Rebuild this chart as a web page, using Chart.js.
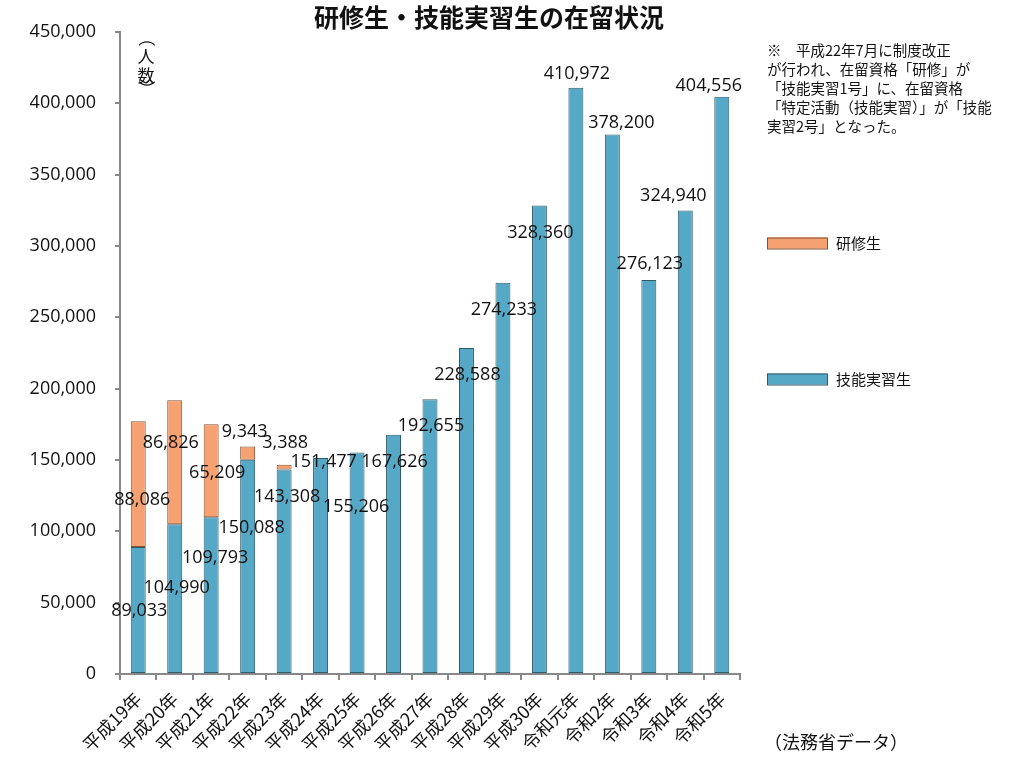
<!DOCTYPE html>
<html lang="ja">
<head>
    <meta charset="UTF-8">
    <title>研修生・技能実習生の在留状況</title>
    <script src="https://cdn.jsdelivr.net/npm/chart.js"></script>
    <style>
        body { margin: 0; background: #fff; }
    </style>
</head>
<body>
    <canvas id="chart" width="1024" height="773"></canvas>

    <script>
        // data
        const years = ['平成19年', '平成20年', '平成21年', '平成22年', '平成23年', '平成24年', '平成25年', '平成26年',
            '平成27年', '平成28年', '平成29年', '平成30年', '令和元年', '令和2年', '令和3年', '令和4年', '令和5年'];
        const interns = [89033, 104990, 109793, 150088, 143308, 151477, 155206, 167626,
            192655, 228588, 274233, 328360, 410972, 378200, 276123, 324940, 404556];
        const trainees = [88086, 86826, 65209, 9343, 3388, null, null, null,
            null, null, null, null, null, null, null, null, null];
        const seriesNames = ['技能実習生', '研修生'];

        const noteLines = [
            '※　平成22年7月に制度改正',
            'が行われ、在留資格「研修」が',
            '「技能実習1号」に、在留資格',
            '「特定活動（技能実習）」が「技能',
            '実習2号」となった。'
        ];

        // where Excel had the data labels, relative to the top of each segment [dx, dy]
        const internLabelShift = [[1, 64], [2, 64], [4, 41], [4, 68], [3, 27], [3, 4], [-1, 54], [1, 27], [1, 27],
            [1, 27], [1, 27], [1, 27], [1, -14], [9, -12], [1, -16], [-12, -15], [-13, -11]];
        const traineeLabelShift = [[4, 79], [-4, 43], [6, 49], [-3, -15], [1, -22]];

        const jp = '"Noto Sans CJK JP", "Noto Sans", sans-serif';
        const num = '"Open Sans", "DejaVu Sans", sans-serif';

        // labels, title, notes, legend
        const extras = {
            id: 'extras',
            afterDatasetsDraw(chart) {
                const ctx = chart.ctx;
                ctx.save();
                ctx.font = '18px ' + num;
                ctx.fillStyle = '#111';
                ctx.textAlign = 'center';
                ctx.textBaseline = 'middle';
                const shifts = [internLabelShift, traineeLabelShift];
                chart.data.datasets.forEach((ds, di) => {
                    chart.getDatasetMeta(di).data.forEach((bar, i) => {
                        const v = ds.data[i];
                        if (v == null) return;
                        const s = shifts[di][i] || [0, 0];
                        ctx.fillText(v.toLocaleString('en-US'), bar.x + s[0], bar.y + s[1]);
                    });
                });
                ctx.restore();
            },
            afterDraw(chart) {
                const ctx = chart.ctx;
                ctx.save();
                ctx.fillStyle = '#111';
                ctx.textBaseline = 'middle';

                // title
                ctx.textAlign = 'center';
                ctx.font = 'bold 25px ' + jp;
                ctx.fillText('研修生・技能実習生の在留状況', 489, 17);

                // y axis title, written vertically
                ctx.font = '17px ' + jp;
                ctx.fillText('人', 146, 57);
                ctx.fillText('数', 146, 76);
                [['（', 38], ['）', 89]].forEach(([c, y]) => {
                    ctx.save();
                    ctx.translate(146, y);
                    ctx.rotate(Math.PI / 2);
                    ctx.fillText(c, 0, 0);
                    ctx.restore();
                });

                // note
                ctx.textAlign = 'left';
                ctx.font = '14.5px ' + jp;
                noteLines.forEach((line, i) => ctx.fillText(line, 767, 50 + i * 19.2));

                // source
                ctx.font = '18px ' + jp;
                ctx.fillText('（法務省データ）', 764, 742);

                // legend (stack order, top first)
                ctx.font = '15px ' + jp;
                const order = [1, 0];
                const ys = [243, 379];
                order.forEach((di, k) => {
                    const ds = chart.data.datasets[di];
                    ctx.fillStyle = ds.backgroundColor;
                    ctx.fillRect(767, ys[k] - 5.5, 60, 11);
                    ctx.strokeStyle = ds.borderColor;
                    ctx.lineWidth = 1;
                    ctx.strokeRect(767.5, ys[k] - 5, 60, 11);
                    ctx.fillStyle = '#111';
                    ctx.fillText(ds.label, 836, ys[k]);
                });
                ctx.restore();
            }
        };

        new Chart(document.getElementById('chart'), {
            type: 'bar',
            data: {
                labels: years,
                datasets: [
                    {
                        label: seriesNames[0],
                        data: interns,
                        backgroundColor: '#56a9c6',
                        borderColor: '#2f5c6b',
                        borderWidth: 1
                    },
                    {
                        label: seriesNames[1],
                        data: trainees,
                        backgroundColor: '#f5a172',
                        borderColor: '#8a4f2e',
                        borderWidth: 1
                    }
                ]
            },
            options: {
                responsive: false,
                animation: false,
                devicePixelRatio: 1,
                layout: { padding: { top: 32, right: 284, left: 0, bottom: 0 } },
                datasets: { bar: { categoryPercentage: 1, barPercentage: 0.41, borderSkipped: false } },
                plugins: {
                    legend: { display: false },
                    title: { display: false },
                    tooltip: { enabled: false }
                },
                scales: {
                    x: {
                        stacked: true,
                        afterFit: (s) => { s.height = 99; },
                        grid: { offset: true, drawOnChartArea: false, tickLength: 6, color: '#888', lineWidth: 2 },
                        border: { color: '#888', width: 2 },
                        ticks: {
                            minRotation: 45,
                            maxRotation: 45,
                            padding: 8,
                            color: '#111',
                            font: { family: jp, size: 18 }
                        }
                    },
                    y: {
                        stacked: true,
                        min: 0,
                        max: 450000,
                        afterFit: (s) => { s.width = 120; },
                        grid: { drawOnChartArea: false, tickLength: 5, color: '#888', lineWidth: 2 },
                        border: { color: '#888', width: 2 },
                        ticks: {
                            stepSize: 50000,
                            padding: 19,
                            color: '#111',
                            font: { family: num, size: 18 },
                            callback: (v) => v.toLocaleString('en-US')
                        }
                    }
                }
            },
            plugins: [extras]
        });
    </script>
</body>
</html>
